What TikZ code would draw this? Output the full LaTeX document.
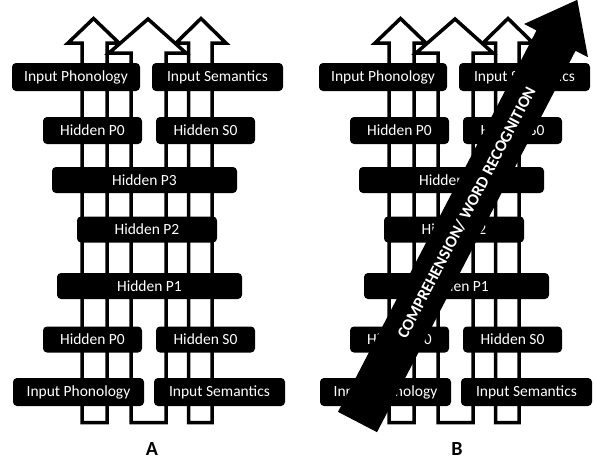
\documentclass[tikz,border=0pt]{standalone}
\usepackage{fontspec}
\setmainfont{Carlito}
\usepackage{tikz}
\usetikzlibrary{arrows.meta,positioning}

\begin{document}
\begin{tikzpicture}[
    x=1pt, y=-1pt,
    tube/.style={draw, line width=3.5pt, fill=white, line join=miter},
    layer/.style={fill=black, text=white, rounded corners=4pt, inner sep=0pt, font=\fontsize{15.5}{18}\selectfont, minimum height=27pt},
    task_arrow/.style={fill=black},
    task_text/.style={text=white, inner sep=0pt, font=\bfseries\fontsize{16.5}{18}\selectfont},
    panel_label/.style={inner sep=0pt, font=\bfseries\fontsize{20}{24}\selectfont}
]
    \useasboundingbox (0,0) rectangle (595,459);

    % Paths of the three hollow arrows
    \def\tubeP{(82,422.5) -- (82,43) -- (68,43) -- (93.5,18.5) -- (119,43) -- (107,43) -- (107,422.5) -- cycle}
    \def\tubeS{(188.5,422.5) -- (188.5,43) -- (176,43) -- (201,18.5) -- (226,43) -- (212,43) -- (212,422.5) -- cycle}
    \def\tubeM{(131,422.5) -- (131,53) -- (109,53) -- (148,19) -- (186,53) -- (166,53) -- (166,422.5) -- cycle}

    % One panel of the model: arrows behind, layers on top
    \def\panel#1{
        \draw[tube] \tubeP;
        \draw[tube] \tubeS;
        \draw[tube] \tubeM;
        \node[layer, minimum width=128pt, minimum height=28pt] (#1_ipt) at (76,77) {Input Phonology};
        \node[layer, minimum width=131pt, minimum height=28pt] (#1_ist) at (217.5,77) {Input Semantics};
        \node[layer, minimum width=99pt] (#1_hp0t) at (92.5,130.5) {Hidden P0};
        \node[layer, minimum width=99pt] (#1_hs0t) at (205.5,130.5) {Hidden S0};
        \node[layer, minimum width=185pt, minimum height=26pt] (#1_hp3) at (144.5,180) {Hidden P3};
        \node[layer, minimum width=140pt, minimum height=26pt] (#1_hp2) at (147,229.5) {Hidden P2};
        \node[layer, minimum width=185pt, minimum height=26pt] (#1_hp1) at (149.5,286) {Hidden P1};
        \node[layer, minimum width=99pt, minimum height=26pt] (#1_hp0b) at (92.5,339.5) {Hidden P0};
        \node[layer, minimum width=99pt, minimum height=26pt] (#1_hs0b) at (205.5,339.5) {Hidden S0};
        \node[layer, minimum width=131pt, minimum height=28pt] (#1_ipb) at (78.5,392) {Input Phonology};
        \node[layer, minimum width=131pt, minimum height=28pt] (#1_isb) at (219.5,392) {Input Semantics};
    }

    % Panel A
    \begin{scope}
        \panel{a}
    \end{scope}
    \node[panel_label] (label_a) at (152,449) {A};

    % Panel B, same model
    \begin{scope}[xshift=307pt]
        \panel{b}
    \end{scope}
    \node[panel_label] (label_b) at (457,449) {B};

    % Task arrow over panel B
    \begin{scope}[shift={(357.5,422)}, rotate=62.5]
        \fill[task_arrow] (0,-22) -- (430,-22) -- (430,-36) -- (476,0) -- (430,36) -- (430,22) -- (0,22) -- cycle;
        \node[task_text, rotate=62.5] (task) at (236,0) {COMPREHENSION/ WORD RECOGNITION};
    \end{scope}
\end{tikzpicture}
\end{document}
